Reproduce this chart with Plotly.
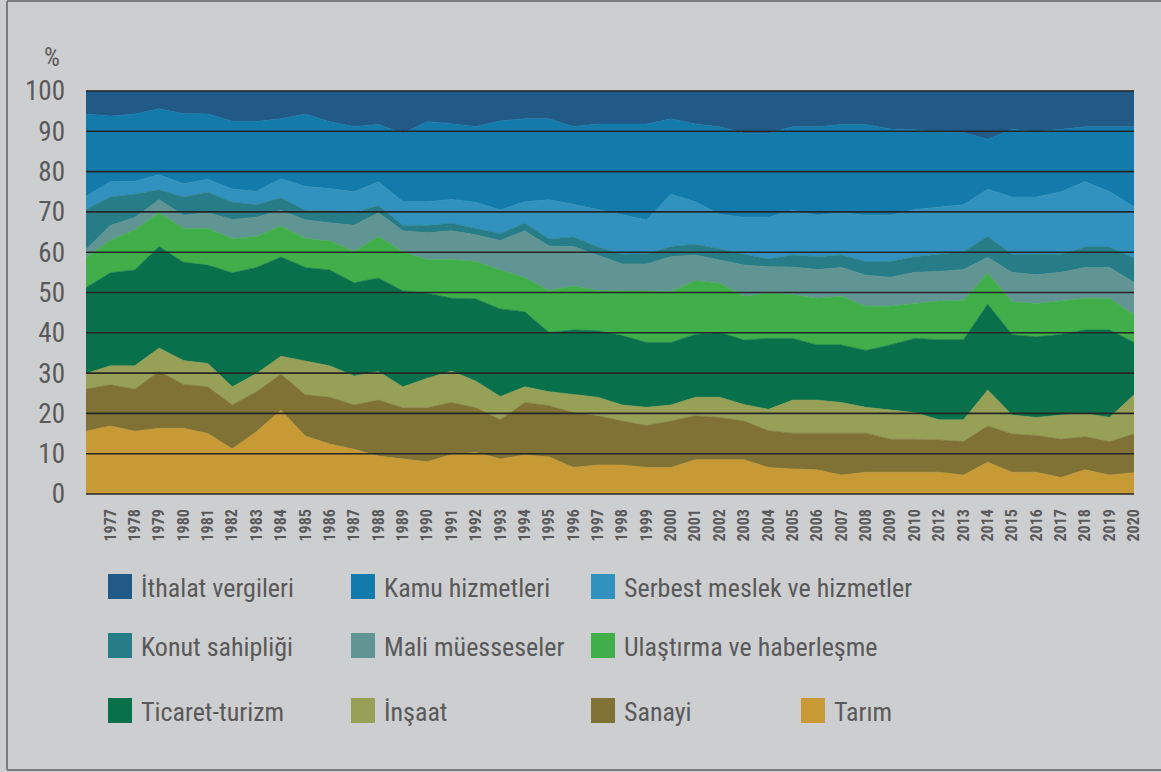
import plotly.graph_objects as go

# ---------------- data (shares, %) ----------------
years = ["1976", "1977", "1978", "1979", "1980", "1981", "1982", "1983", "1984", "1985",
         "1986", "1987", "1988", "1989", "1990", "1991", "1992", "1993", "1994", "1995",
         "1996", "1997", "1998", "1999", "2000", "2001", "2002", "2003", "2004", "2005",
         "2006", "2007", "2008", "2009", "2010", "2012", "2013", "2014", "2015", "2016",
         "2017", "2018", "2019", "2020"]
tick_years = years[1:]

tarim = [15.6, 16.9, 15.6, 16.3, 16.3, 15.0, 11.2, 15.5, 20.8, 14.4,
         12.4, 11.1, 9.4, 8.7, 8.0, 9.8, 10.3, 8.7, 9.7, 9.2,
         6.6, 7.2, 7.2, 6.6, 6.6, 8.5, 8.5, 8.5, 6.6, 6.2,
         6.0, 4.7, 5.4, 5.4, 5.4, 5.4, 4.7, 7.9, 5.4, 5.4,
         4.1, 6.0, 4.7, 5.3]
sanayi = [10.4, 10.2, 10.4, 14.1, 10.9, 11.6, 10.9, 9.9, 8.9, 10.2,
          11.6, 11.0, 13.9, 12.7, 13.4, 12.9, 11.1, 9.7, 13.0, 12.7,
          13.6, 12.2, 10.9, 10.4, 11.5, 10.9, 10.5, 9.6, 9.1, 8.9,
          9.1, 10.4, 9.7, 8.2, 8.2, 8.0, 8.3, 9.0, 9.5, 9.1,
          9.5, 8.2, 8.3, 9.6]
insaat = [3.9, 4.7, 5.8, 5.8, 5.9, 5.8, 4.5, 4.5, 4.5, 8.4,
          7.8, 7.2, 7.1, 5.2, 7.3, 7.8, 6.6, 5.8, 3.9, 3.5,
          4.5, 4.6, 4.0, 4.5, 4.0, 4.6, 5.0, 4.1, 5.3, 8.2,
          8.2, 7.6, 6.4, 7.2, 6.6, 5.0, 5.4, 8.9, 4.7, 4.5,
          6.0, 5.8, 6.0, 9.7]
ticaret = [21.3, 23.1, 23.8, 25.2, 24.4, 24.4, 28.3, 26.3, 24.6, 23.2,
           23.8, 23.1, 23.2, 23.8, 21.1, 18.1, 20.4, 21.7, 18.6, 14.7,
           16.0, 16.5, 17.2, 16.1, 15.5, 15.6, 16.1, 16.0, 17.6, 15.3,
           13.7, 14.3, 14.1, 16.2, 18.4, 19.9, 19.9, 21.3, 19.9, 20.0,
           20.0, 20.7, 21.7, 13.0]
ulastirma = [7.5, 8.0, 9.9, 8.4, 8.4, 9.1, 8.5, 7.7, 7.7, 7.2,
             7.2, 7.8, 10.3, 9.7, 8.4, 9.6, 9.3, 9.7, 8.5, 10.4,
             10.9, 10.0, 11.1, 12.8, 12.6, 13.3, 12.2, 10.9, 11.2, 10.9,
             11.6, 12.1, 11.0, 9.6, 8.7, 9.6, 9.7, 7.7, 8.2, 8.3,
             8.3, 7.9, 7.9, 6.8]
mali = [2.0, 3.7, 3.1, 3.2, 3.3, 3.9, 4.7, 4.8, 3.9, 4.6,
        4.5, 6.5, 5.9, 5.2, 6.6, 7.1, 6.6, 7.3, 11.6, 11.0,
        9.8, 8.8, 6.7, 6.7, 8.7, 6.4, 5.8, 7.7, 6.6, 6.8,
        7.1, 7.1, 7.7, 7.2, 7.7, 7.3, 7.7, 3.9, 7.3, 7.1,
        7.1, 7.6, 7.6, 8.1]
konut = [9.9, 7.1, 5.8, 2.5, 4.5, 5.1, 4.3, 3.1, 3.1, 2.4,
         3.0, 3.1, 1.8, 1.4, 1.8, 1.9, 1.6, 1.7, 1.9, 1.8,
         2.4, 2.0, 2.4, 2.5, 2.5, 2.7, 2.7, 2.8, 1.9, 3.0,
         3.2, 3.1, 3.4, 3.9, 3.9, 4.3, 4.4, 5.2, 4.5, 5.1,
         4.5, 5.1, 5.1, 6.0]
serbest = [3.3, 3.8, 3.2, 3.7, 3.3, 3.2, 3.3, 3.3, 4.7, 5.9,
           5.5, 5.2, 5.9, 5.8, 5.9, 5.9, 6.5, 5.9, 5.3, 9.7,
           8.1, 9.3, 9.7, 8.4, 13.0, 10.5, 8.6, 9.1, 10.4, 11.1,
           10.3, 10.5, 11.5, 11.5, 11.7, 11.7, 11.7, 11.7, 14.2, 14.2,
           15.5, 16.2, 13.7, 12.8]
kamu = [20.4, 16.3, 16.7, 16.4, 17.4, 16.2, 16.8, 17.4, 14.9, 18.0,
        16.6, 16.2, 14.2, 17.0, 19.9, 18.8, 18.8, 22.1, 20.6, 20.1,
        19.3, 21.2, 22.6, 23.8, 18.7, 19.3, 21.7, 20.8, 20.8, 20.7,
        21.9, 21.9, 22.5, 21.4, 19.8, 18.6, 17.9, 12.4, 16.8, 16.2,
        15.5, 13.6, 16.1, 19.8]
ithalat = [5.7, 6.2, 5.7, 4.4, 5.6, 5.7, 7.5, 7.5, 6.9, 5.7,
           7.6, 8.8, 8.3, 10.5, 7.6, 8.1, 8.8, 7.4, 6.9, 6.9,
           8.8, 8.2, 8.2, 8.2, 6.9, 8.2, 8.9, 10.5, 10.5, 8.9,
           8.9, 8.3, 8.3, 9.4, 9.6, 10.2, 10.3, 12.0, 9.5, 10.1,
           9.5, 8.9, 8.9, 8.9]

# bottom -> top stacking order
series = [
    ("Tarım", tarim, "#c79a35"),
    ("Sanayi", sanayi, "#7f7234"),
    ("İnşaat", insaat, "#96a057"),
    ("Ticaret-turizm", ticaret, "#08704a"),
    ("Ulaştırma ve haberleşme", ulastirma, "#40ae49"),
    ("Mali müesseseler", mali, "#609594"),
    ("Konut sahipliği", konut, "#267d87"),
    ("Serbest meslek ve hizmetler", serbest, "#3192bf"),
    ("Kamu hizmetleri", kamu, "#127bab"),
    ("İthalat vergileri", ithalat, "#215a87"),
]

y_ticks = list(range(0, 101, 10))

# legend layout (reading order, as in the reference)
legend_rows = [
    ["İthalat vergileri", "Kamu hizmetleri", "Serbest meslek ve hizmetler"],
    ["Konut sahipliği", "Mali müesseseler", "Ulaştırma ve haberleşme"],
    ["Ticaret-turizm", "İnşaat", "Sanayi", "Tarım"],
]

# ---------------- styling ----------------
W, H = 1161, 772
L, R, T, B = 86, 27, 90, 277
BG = "#cdced0"
TXT = "#595959"
FONT = "Liberation Sans Narrow, Roboto Condensed, Arial Narrow, Roboto, sans-serif"


def fx(p):
    return (p - L) / (W - L - R)


def fy(p):
    return (H - B - p) / (H - T - B)


fig = go.Figure()
for name, vals, col in series:
    fig.add_trace(go.Scatter(
        x=years, y=vals, name=name, mode="lines",
        stackgroup="one", line=dict(width=0.6, color=col),
        fillcolor=col, showlegend=False,
        hovertemplate="%{x}: %{y:.1f}%<extra>" + name + "</extra>",
    ))

shapes = []
# horizontal gridlines drawn above the areas (x given as category indices)
for v in y_ticks:
    shapes.append(dict(type="line", xref="x", yref="y", x0=0, x1=len(years) - 1,
                       y0=v, y1=v, layer="above",
                       line=dict(color="#262626", width=1.6)))
# outer frame: left, top, bottom edges
FRAME = dict(color="#7c7c7c", width=2)
shapes.append(dict(type="line", xref="paper", yref="paper",
                   x0=fx(7), x1=fx(7), y0=fy(1), y1=fy(770), line=FRAME, layer="below"))
shapes.append(dict(type="line", xref="paper", yref="paper",
                   x0=fx(7), x1=fx(W), y0=fy(1), y1=fy(1), line=FRAME, layer="below"))
shapes.append(dict(type="line", xref="paper", yref="paper",
                   x0=fx(7), x1=fx(W), y0=fy(770), y1=fy(770), line=FRAME, layer="below"))

annotations = [dict(text="%", xref="paper", yref="paper", x=fx(52), y=fy(58),
                    xanchor="center", yanchor="middle", showarrow=False,
                    font=dict(family=FONT, size=25, color=TXT))]

# manual legend: coloured squares + labels
col_x = [108, 351, 591, 801]
row_y = [586.5, 645.5, 710.5]
colors = {n: c for n, _, c in series}
for r, row in enumerate(legend_rows):
    for c, name in enumerate(row):
        x0 = col_x[c]
        yc = row_y[r]
        shapes.append(dict(type="rect", xref="paper", yref="paper",
                           x0=fx(x0), x1=fx(x0 + 24), y0=fy(yc + 12.5), y1=fy(yc - 12.5),
                           fillcolor=colors[name], line=dict(width=0)))
        annotations.append(dict(text=name, xref="paper", yref="paper",
                                x=fx(x0 + 31), y=fy(yc + 1), xanchor="left", yanchor="middle",
                                showarrow=False,
                                font=dict(family=FONT, size=26, color=TXT)))

fig.update_layout(
    width=W, height=H,
    margin=dict(l=L, r=R, t=T, b=B, pad=0),
    paper_bgcolor=BG, plot_bgcolor=BG,
    font=dict(family=FONT, color=TXT),
    showlegend=False,
    shapes=shapes, annotations=annotations,
    xaxis=dict(type="category", range=[0, len(years) - 1],
               tickmode="array", tickvals=tick_years, ticktext=tick_years,
               tickangle=-90, showgrid=False, zeroline=False, showline=False,
               ticks="", ticklabelstandoff=10,
               tickfont=dict(family=FONT, size=16, color=TXT, weight="bold")),
    yaxis=dict(range=[-0.25, 100.25], tickmode="array", tickvals=y_ticks,
               showgrid=False, zeroline=False, showline=False, ticks="",
               ticklabelstandoff=20,
               tickfont=dict(family=FONT, size=27, color=TXT)),
)

fig.write_html(
    "out.html",
    config={"displayModeBar": False},
    post_script="document.body.style.margin='0';document.body.style.overflow='hidden';",
)
